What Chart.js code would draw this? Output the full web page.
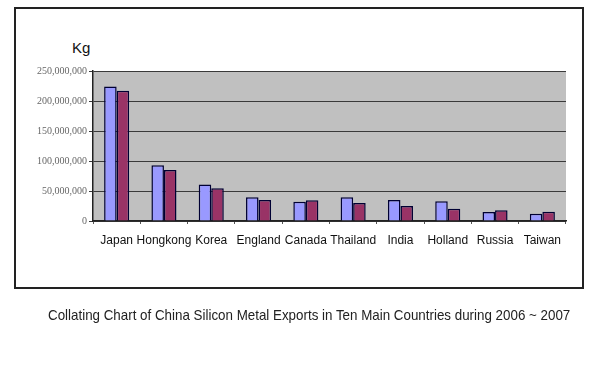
<!DOCTYPE html>
<html>
<head>
<meta charset="utf-8">
<script src="https://cdn.jsdelivr.net/npm/chart.js@4.4.1/dist/chart.umd.min.js"></script>
<style>
  body { margin: 0; background: #fff; }
  #wrap { position: relative; width: 600px; height: 375px; overflow: hidden; }
  #frame { position: absolute; left: 14px; top: 7px; width: 570px; height: 282px; box-sizing: border-box; border: 2px solid #222; }
  #unit { position: absolute; left: 72px; top: 39px; font: 15px "Liberation Sans", Arial, sans-serif; color: #111; }
  #caption { position: absolute; left: 48px; top: 306px; font: 15px "Liberation Sans", Arial, sans-serif; color: #222; white-space: nowrap; transform-origin: 0 0; }
  canvas { position: absolute; left: 0; top: 0; }
</style>
</head>
<body>
<div id="wrap">
  <div id="frame"></div>
  <div id="unit">Kg</div>
  <canvas id="chart" width="600" height="375"></canvas>
  <div id="caption">Collating Chart of China Silicon Metal Exports in Ten Main Countries during 2006 ~ 2007</div>
</div>
<script>
const countries = ["Japan", "Hongkong", "Korea", "England", "Canada", "Thailand", "India", "Holland", "Russia", "Taiwan"];
const exports2006 = [224000000, 93000000, 61000000, 39500000, 32000000, 39500000, 35000000, 33000000, 15000000, 12000000];
const exports2007 = [217000000, 85000000, 54500000, 35000000, 34500000, 30000000, 25000000, 20500000, 18000000, 15500000];
const yTicks = [0, 50000000, 100000000, 150000000, 200000000, 250000000];

// squeeze the caption to the reference width
const cap = document.getElementById("caption");
cap.style.transform = "scaleX(" + (522 / cap.offsetWidth) + ")";

const plotBackground = {
    id: "plotBackground",
    beforeDraw(chart) {
        const a = chart.chartArea;
        const ctx = chart.ctx;
        ctx.save();
        ctx.fillStyle = "#c0c0c0";
        ctx.fillRect(a.left, a.top, a.right - a.left, a.bottom - a.top);
        ctx.restore();
    }
};

new Chart(document.getElementById("chart"), {
    type: "bar",
    data: {
        labels: countries,
        datasets: [
            { label: "2006", data: exports2006, backgroundColor: "#9999ff", borderColor: "#000033", borderWidth: 1.5 },
            { label: "2007", data: exports2007, backgroundColor: "#993366", borderColor: "#000033", borderWidth: 1.5 }
        ]
    },
    options: {
        responsive: false,
        animation: false,
        layout: { padding: { left: 0, top: 71, right: 34, bottom: 124 } },
        plugins: { legend: { display: false }, tooltip: { enabled: false } },
        datasets: { bar: { categoryPercentage: 0.53, barPercentage: 1 } },
        scales: {
            x: {
                grid: { drawOnChartArea: false, color: "#555", tickLength: 3 },
                border: { color: "#222", width: 1.5 },
                ticks: {
                    color: "#111",
                    font: { family: "Liberation Sans", size: 12 },
                    padding: 9,
                    autoSkip: false,
                    maxRotation: 0
                },
                afterFit(scale) { scale.height = 30; }
            },
            y: {
                min: 0,
                max: 250000000,
                afterBuildTicks(scale) { scale.ticks = yTicks.map(v => ({ value: v })); },
                grid: { color: "#3a3a3a", lineWidth: 1, tickLength: 4 },
                border: { color: "#222", width: 1.5 },
                ticks: {
                    color: "#666",
                    font: { family: "Liberation Serif", size: 10 },
                    padding: 2,
                    callback: v => v.toLocaleString("en-US")
                },
                afterFit(scale) { scale.width = 93; }
            }
        }
    },
    plugins: [plotBackground]
});
</script>
</body>
</html>
